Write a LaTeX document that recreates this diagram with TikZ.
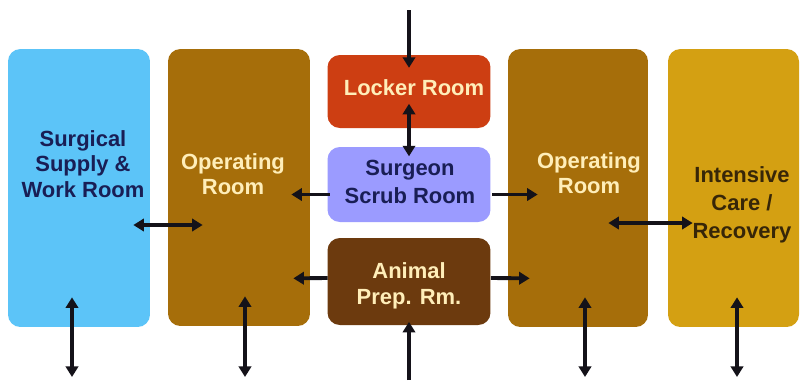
\documentclass[tikz,border=0pt]{standalone}
\usepackage{fontspec}
\setmainfont{Liberation Sans}
\usetikzlibrary{positioning, arrows.meta, calc}
\usepackage{xcolor}

\definecolor{supplyblue}{RGB}{92,196,248}
\definecolor{orbrown}{RGB}{166,110,10}
\definecolor{icugold}{RGB}{212,160,18}
\definecolor{lockerred}{RGB}{205,62,18}
\definecolor{scrubblue}{RGB}{155,155,255}
\definecolor{prepbrown}{RGB}{108,58,14}
\definecolor{cream}{RGB}{255,238,185}
\definecolor{navy}{RGB}{25,30,85}
\definecolor{icutext}{RGB}{55,38,8}
\definecolor{doorblack}{RGB}{20,18,25}

\tikzset{
  room/.style={rounded corners=7pt, inner sep=0pt},
  lbl/.style={font=\bfseries\fontsize{12.5}{14.5}\selectfont, align=center, inner sep=0pt},
  door/.style={line width=2.2pt, doorblack},
  >={Triangle[length=6pt, width=7pt]}
}

\begin{document}
\begin{tikzpicture}[x=0.02cm, y=-0.02cm]
    \useasboundingbox[fill=white] (0,0) rectangle (800,380);
    % Rooms
    \node[room, fill=supplyblue, minimum width=2.84cm, minimum height=5.56cm] (supply) at (79,188) {};
    \node[room, fill=orbrown, minimum width=2.84cm, minimum height=5.54cm] (orl) at (239,187.5) {};
    \node[room, fill=lockerred, minimum width=3.26cm, minimum height=1.46cm] (locker) at (409,91.5) {};
    \node[room, fill=scrubblue, minimum width=3.26cm, minimum height=1.5cm] (scrub) at (409,184.5) {};
    \node[room, fill=prepbrown, minimum width=3.26cm, minimum height=1.74cm] (animal) at (409,281.5) {};
    \node[room, fill=orbrown, minimum width=2.8cm, minimum height=5.56cm] (orr) at (578,188) {};
    \node[room, fill=icugold, minimum width=2.62cm, minimum height=5.56cm] (icu) at (733.5,188) {};
    % Labels
    \node[lbl, navy] (supply-txt) at (83,164) {Surgical\\Supply \&\\Work Room};
    \node[lbl, cream] (orl-txt) at (233,174) {Operating\\Room};
    \node[lbl, cream] (locker-txt) at (414,88) {Locker Room};
    \node[lbl, navy, font=\bfseries\fontsize{12.5}{16}\selectfont] (scrub-txt) at (410,182) {Surgeon\\Scrub Room};
    \node[lbl, cream] (animal-txt) at (409,286) {Animal\\Prep. Rm.};
    \node[lbl, cream] (orr-txt) at (589,173) {Operating\\Room};
    \node[lbl, icutext, font=\bfseries\fontsize{12.5}{16}\selectfont] (icu-txt) at (742,205) {Intensive\\Care /\\Recovery};
    % Entry and exit of the suite
    \coordinate (entry) at (409,10);
    \coordinate (exit) at (409,380);
    \draw[->, door] (entry) -- ([yshift=-7.5pt]locker.north);
    \draw[<->, door] ([yshift=14pt]locker.south) -- ([yshift=-5.5pt]scrub.north);
    \draw[->, door] (exit) -- ([yshift=2pt]animal.south);
    % Scrub and prep to the operating rooms
    \draw[->, door] ($(scrub.west)+(2.5,10)$) -- ($(orl.east)+(-19,7)$);
    \draw[->, door] ($(scrub.east)+(1.5,10)$) -- ($(orr.west)+(30,6.5)$);
    \draw[->, door] ($(animal.west)+(0.5,-3.5)$) -- ($(orl.south east)+(-17,-48)$);
    \draw[->, door] ($(animal.east)+(0,-3.5)$) -- ($(orr.south west)+(22,-49)$);
    % Side doors
    \draw[<->, door] ($(supply.east)+(-17,37)$) -- ($(orl.west)+(35,37.5)$);
    \draw[<->, door] ($(orr.east)+(-40,35)$) -- ($(icu.west)+(25,35)$);
    % Doors to the outside corridor
    \foreach \r/\x in {supply/72, orl/245, orr/585, icu/737} {
      \coordinate (\r-out) at (\x,377);
      \draw[<->, door] (\r-out) -- ($(\r-out |- \r.south)+(0,-30)$);
    }
\end{tikzpicture}
\end{document}
